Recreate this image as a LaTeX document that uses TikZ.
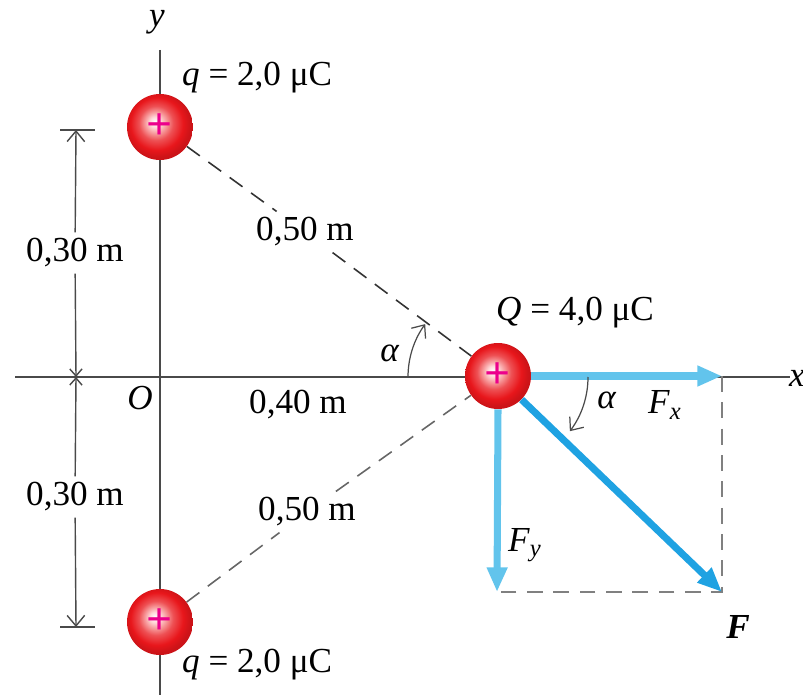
\documentclass[tikz,border=0pt]{standalone}
\usepackage{fontspec}
\setmainfont{Liberation Serif}
\usetikzlibrary{arrows.meta}
\definecolor{fxblue}{HTML}{62C4EC}
\definecolor{fblue}{HTML}{1FA2E2}
\definecolor{axisgray}{HTML}{4A4A4A}
\definecolor{ballred}{HTML}{E8161B}
\pgfdeclareradialshading{chargeball}{\pgfpoint{-4bp}{4bp}}{%
  color(0bp)=(white); color(4bp)=(white!85!red); color(13bp)=(ballred!75!white);
  color(20bp)=(ballred); color(25bp)=(ballred!88!black); color(50bp)=(ballred!88!black)}

\begin{document}
\begin{tikzpicture}[font=\fontsize{20}{24}\selectfont,x=0.02cm,y=-0.02cm,
  charge/.style={circle,shading=chargeball,minimum size=1.32cm,inner sep=0pt,
    text=magenta,font=\bfseries\fontsize{26}{26}\selectfont},
  dist/.style={dash pattern=on 9pt off 6pt,line width=0.9pt,black!80},
  force/.style={line width=4pt,-{Triangle[length=14pt,width=11pt]}},
  dim/.style={line width=0.8pt,axisgray},
  barb/.style={-{Straight Barb[length=6pt,width=10pt]}}]
\path[use as bounding box] (0,0) rectangle (803,695);
% axes
\draw[line width=1.3pt,axisgray] (15,377) -- (790,377);
\draw[line width=1.3pt,axisgray] (160,50) -- (160,695);
\node (ylab) at (157,22) {\textit{y}};
\node (xlab) at (797,378) {\textit{x}};
\node (orig) at (140,398) {\textit{O}};

% charges
\node[charge] (qtop) at (160,127) {+};
\node[charge] (qbot) at (160,622) {+};
\node[charge] (Qc) at (498,376) {+};
\node[anchor=west] (qtoplab) at (176,78) {\textit{q} = 2,0 μC};
\node[anchor=west] (qbotlab) at (176,665) {\textit{q} = 2,0 μC};
\node[anchor=west] (Qlab) at (490,313) {\textit{Q} = 4,0 μC};

% distances
\node (ltop) at (305,232) {0,50 m};
\node (lbot) at (307,512) {0,50 m};
\node (lx) at (298,405) {0,40 m};
\draw[dist] (qtop) -- (ltop);
\draw[dist] (ltop) -- (Qc);
\draw[dist,black!60] (qbot) -- (lbot);
\draw[dist,black!60] (lbot) -- (Qc);

% dimension line
\node (dtop) at (75,253) {0,30 m};
\node (dbot) at (75,497) {0,30 m};
\coordinate (dt) at (76,130);
\coordinate (dm) at (76,377);
\coordinate (db) at (76,627);
\draw[dim] (60,130) -- (95,130);
\draw[dim] (60,627) -- (95,627);
\draw[dim,barb] (dtop) -- (dt);
\draw[dim,barb] (dbot) -- (db);
\draw[dim,-{Straight Barb[length=4pt,width=7pt]}] (dtop) -- (dm);
\draw[dim,-{Straight Barb[length=4pt,width=7pt]}] (dbot) -- (dm);

% forces
\coordinate (fx) at (722,376);
\coordinate (fy) at (497,592);
\coordinate (fe) at (722,592);
\draw[dist,black!50] (fx) -- (fe) -- (fy);
\draw[force,fxblue] (Qc.east) -- (fx);
\draw[force,fxblue] (Qc.south) -- (fy);
\draw[force,fblue] (Qc.-45) -- (fe);
\node (fxlab) at (665,405) {\textit{F}\textsubscript{\textit{x}}};
\node (fylab) at (525,545) {\textit{F}\textsubscript{\textit{y}}};
\node (flab) at (738,627) {\textbf{\textit{F}}};

% angles
\draw[dim,line width=0.7pt,barb] (408,377) arc (180:216:90);
\draw[dim,line width=0.7pt,barb] (588,377) arc (0:37:90);
\node (atop) at (390,353) {\textit{α}};
\node (abot) at (607,400) {\textit{α}};
\end{tikzpicture}
\end{document}
